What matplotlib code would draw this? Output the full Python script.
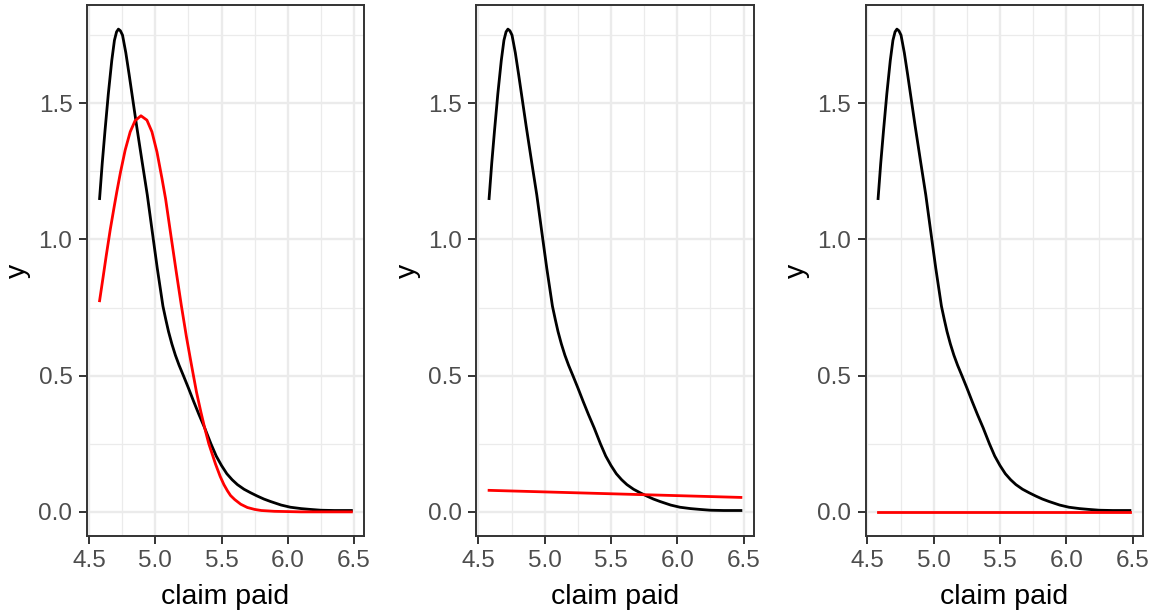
import numpy as np
import matplotlib
matplotlib.use("Agg")
import matplotlib.pyplot as plt
from matplotlib.ticker import MultipleLocator, FormatStrFormatter

plt.rcParams['font.family'] = ['Liberation Sans', 'DejaVu Sans']

dens_x = [4.58, 4.60, 4.621, 4.646, 4.672, 4.692, 4.708, 4.722, 4.737, 4.753, 4.778,
          4.803, 4.83, 4.86, 4.90, 4.94, 4.977, 5.015, 5.058, 5.08, 5.10, 5.125, 5.152,
          5.18, 5.215, 5.25, 5.29, 5.33, 5.373, 5.42, 5.46, 5.50, 5.54, 5.58, 5.62,
          5.67, 5.72, 5.77, 5.82, 5.87, 5.95, 6.02, 6.10, 6.17, 6.25, 6.35, 6.48]
dens_y = [1.15, 1.28, 1.40, 1.535, 1.657, 1.731, 1.762, 1.772, 1.766, 1.750, 1.685,
          1.605, 1.515, 1.415, 1.288, 1.163, 1.03, 0.895, 0.755, 0.705, 0.662, 0.617, 0.575,
          0.538, 0.497, 0.455, 0.405, 0.357, 0.308, 0.25, 0.205, 0.17, 0.14, 0.118, 0.10,
          0.083, 0.07, 0.058, 0.047, 0.038, 0.025, 0.017, 0.012, 0.009, 0.006, 0.005, 0.005]

# fitted densities (red), one per panel
fit1_x = [4.58, 4.606, 4.63, 4.66, 4.69, 4.71, 4.737, 4.773, 4.811, 4.848, 4.892, 4.937,
          4.975, 5.013, 5.051, 5.078, 5.121, 5.159, 5.197, 5.235, 5.273, 5.311, 5.345,
          5.373, 5.404, 5.455, 5.49, 5.518, 5.545, 5.568, 5.60, 5.645, 5.695, 5.75, 5.80,
          5.90, 6.00, 6.10, 6.48]
fit1_y = [0.775, 0.86, 0.94, 1.035, 1.12, 1.175, 1.245, 1.328, 1.395, 1.436, 1.454, 1.438,
          1.395, 1.321, 1.223, 1.149, 1.005, 0.879, 0.757, 0.643, 0.54, 0.44, 0.365,
          0.308, 0.25, 0.175, 0.13, 0.10, 0.077, 0.06, 0.045, 0.028, 0.016, 0.009, 0.005,
          0.002, 0.001, 0.0, 0.0]
fit2_x = [4.58, 6.48]
fit2_y = [0.079, 0.053]
fit3_x = [4.58, 6.48]
fit3_y = [0.0, 0.0]

fits = [(fit1_x, fit1_y), (fit2_x, fit2_y), (fit3_x, fit3_y)]

fig = plt.figure(figsize=(11.53, 6.15), dpi=100)
lefts = [87 / 1153, 476.5 / 1153, 865.5 / 1153]
width = 277 / 1153
bottom = 79 / 615
height = 531 / 615

all_y = dens_y + fit1_y + fit2_y + fit3_y
ymin, ymax = min(all_y), max(all_y)
xmin, xmax = min(dens_x), max(dens_x)

for left, (fx, fy) in zip(lefts, fits):
    ax = fig.add_axes([left, bottom, width, height])
    ax.plot(dens_x, dens_y, color='black', lw=2.0, zorder=3, solid_joinstyle='round')
    ax.plot(fx, fy, color='red', lw=2.0, zorder=3, solid_joinstyle='round')

    ax.set_xlim(xmin - 0.05 * (xmax - xmin), xmax + 0.05 * (xmax - xmin))
    ax.set_ylim(ymin - 0.05 * (ymax - ymin), ymax + 0.05 * (ymax - ymin))
    ax.xaxis.set_major_locator(MultipleLocator(0.5))
    ax.xaxis.set_minor_locator(MultipleLocator(0.25))
    ax.yaxis.set_major_locator(MultipleLocator(0.5))
    ax.yaxis.set_minor_locator(MultipleLocator(0.25))
    ax.xaxis.set_major_formatter(FormatStrFormatter('%.1f'))
    ax.yaxis.set_major_formatter(FormatStrFormatter('%.1f'))

    ax.grid(which='major', color='#EBEBEB', lw=1.7, zorder=0)
    ax.grid(which='minor', color='#EBEBEB', lw=0.9, zorder=0)
    ax.set_axisbelow(True)
    for s in ax.spines.values():
        s.set_color('#333333')
        s.set_linewidth(1.4)
    ax.tick_params(which='major', length=5.5, width=1.4, color='#333333',
                   labelcolor='#4D4D4D', labelsize=17.5)
    ax.tick_params(axis='x', which='major', pad=4.5)
    ax.tick_params(axis='y', which='major', pad=5)
    ax.tick_params(which='minor', length=0)

    ax.set_xlabel('claim paid', fontsize=20.5, color='black', labelpad=9)
    ax.set_ylabel('y', fontsize=20.5, color='black', labelpad=5)

fig.savefig('out.png', dpi=100)
